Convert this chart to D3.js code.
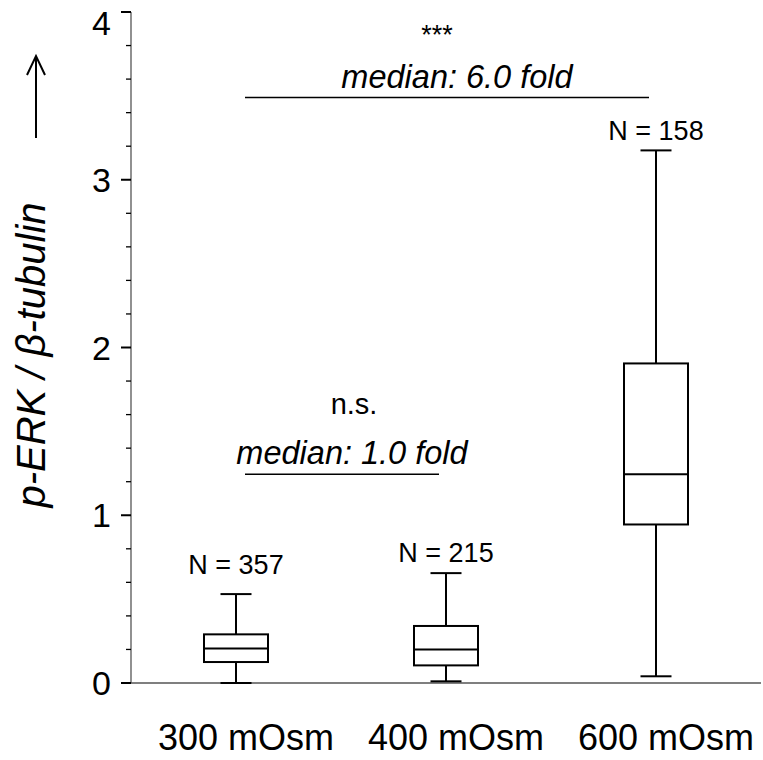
<!DOCTYPE html>
<html>
<head>
<meta charset="utf-8">
<script src="https://cdn.jsdelivr.net/npm/d3@7"></script>
<style>
body{margin:0;background:#fff;}
svg{display:block;font-family:"Liberation Sans",Arial,sans-serif;}
</style>
</head>
<body>
<svg id="chart" width="763" height="760"></svg>
<script>
const categories = ["300 mOsm","400 mOsm","600 mOsm"];
const whiskerLow  = [0.00, 0.01, 0.04];
const q1Values    = [0.125, 0.105, 0.945];
const medians     = [0.205, 0.20, 1.245];
const q3Values    = [0.29, 0.34, 1.905];
const whiskerHigh = [0.53, 0.655, 3.175];
const nLabels     = ["N = 357","N = 215","N = 158"];
const yTicks      = [0,1,2,3,4];

const svg = d3.select("#chart");
const x = d3.scaleBand().domain(categories).range([131,761]).paddingInner(0).paddingOuter(0);
const y = d3.scaleLinear().domain([0,4]).range([683,12]);
const bw = 64, cw = 31;
const cx = d => x(d)+x.bandwidth()/2;

// axis lines
svg.append("line").attr("x1",131).attr("x2",131).attr("y1",y(4)).attr("y2",y(0))
  .attr("stroke","#555").attr("stroke-width",1.3);
svg.append("line").attr("x1",131).attr("x2",761).attr("y1",y(0)).attr("y2",y(0))
  .attr("stroke","#555").attr("stroke-width",1.3);

// minor ticks
const minor = d3.range(0,4.001,0.2).filter(v=>Math.abs(v-Math.round(v))>1e-6);
svg.selectAll(".minor").data(minor).enter().append("line")
  .attr("x1",126).attr("x2",131).attr("y1",d=>y(d)).attr("y2",d=>y(d))
  .attr("stroke","#000").attr("stroke-width",1.3);
// major ticks
svg.selectAll(".major").data(yTicks).enter().append("line")
  .attr("x1",121).attr("x2",131).attr("y1",d=>y(d)).attr("y2",d=>y(d))
  .attr("stroke","#000").attr("stroke-width",2);
svg.selectAll(".ylab").data(yTicks).enter().append("text")
  .attr("x",111).attr("y",d=>Math.max(y(d)+12,35)).attr("text-anchor","end")
  .attr("font-size",34).text(d=>d);

// x labels
svg.selectAll(".xlab").data(categories).enter().append("text")
  .attr("x",d=>cx(d)+10).attr("y",750).attr("text-anchor","middle")
  .attr("font-size",36).text(d=>d);

// boxes
const g = svg.selectAll(".box").data(categories).enter().append("g");
g.append("line").attr("x1",cx).attr("x2",cx)
  .attr("y1",(d,i)=>y(whiskerLow[i])).attr("y2",(d,i)=>y(q1Values[i]))
  .attr("stroke","#000").attr("stroke-width",2);
g.append("line").attr("x1",cx).attr("x2",cx)
  .attr("y1",(d,i)=>y(q3Values[i])).attr("y2",(d,i)=>y(whiskerHigh[i]))
  .attr("stroke","#000").attr("stroke-width",2);
g.append("line").attr("x1",d=>cx(d)-cw/2).attr("x2",d=>cx(d)+cw/2)
  .attr("y1",(d,i)=>y(whiskerLow[i])).attr("y2",(d,i)=>y(whiskerLow[i]))
  .attr("stroke","#000").attr("stroke-width",2);
g.append("line").attr("x1",d=>cx(d)-cw/2).attr("x2",d=>cx(d)+cw/2)
  .attr("y1",(d,i)=>y(whiskerHigh[i])).attr("y2",(d,i)=>y(whiskerHigh[i]))
  .attr("stroke","#000").attr("stroke-width",2);
g.append("rect").attr("x",d=>cx(d)-bw/2).attr("width",bw)
  .attr("y",(d,i)=>y(q3Values[i])).attr("height",(d,i)=>y(q1Values[i])-y(q3Values[i]))
  .attr("fill","none").attr("stroke","#000").attr("stroke-width",2);
g.append("line").attr("x1",d=>cx(d)-bw/2).attr("x2",d=>cx(d)+bw/2)
  .attr("y1",(d,i)=>y(medians[i])).attr("y2",(d,i)=>y(medians[i]))
  .attr("stroke","#000").attr("stroke-width",2);
const nGap = [20, 11, 10];
g.append("text").attr("x",cx).attr("y",(d,i)=>y(whiskerHigh[i])-nGap[i])
  .attr("text-anchor","middle").attr("font-size",27).text((d,i)=>nLabels[i]);

// significance annotations
function bracket(c1,c2,val,sig,sx,sdy,label,lx){
  const x1 = cx(c1)+9, x2 = cx(c2)-7;
  const yy = y(val);
  svg.append("line").attr("x1",x1).attr("x2",x2).attr("y1",yy).attr("y2",yy)
    .attr("stroke","#000").attr("stroke-width",1.5);
  svg.append("text").attr("x",lx).attr("y",yy-10).attr("text-anchor","middle")
    .attr("font-size",32.5).attr("font-style","italic").text(label);
  svg.append("text").attr("x",sx).attr("y",yy-sdy).attr("text-anchor","middle")
    .attr("font-size",sig==="***"?27:29).text(sig);
}
bracket("300 mOsm","400 mOsm",1.245,"n.s.",354,60,"median: 1.0 fold",352);
bracket("300 mOsm","600 mOsm",3.49,"***",437,54,"median: 6.0 fold",457);

// y title
svg.append("text").attr("transform","translate(45,355) rotate(-90)")
  .attr("text-anchor","middle").attr("font-size",40).attr("font-style","italic")
  .text("p-ERK / β-tubulin");
// arrow
svg.append("line").attr("x1",36).attr("x2",36).attr("y1",138).attr("y2",56)
  .attr("stroke","#000").attr("stroke-width",2);
svg.append("path").attr("d","M27,75 L36,56 L45,75").attr("fill","none")
  .attr("stroke","#000").attr("stroke-width",2);
</script>
</body>
</html>
